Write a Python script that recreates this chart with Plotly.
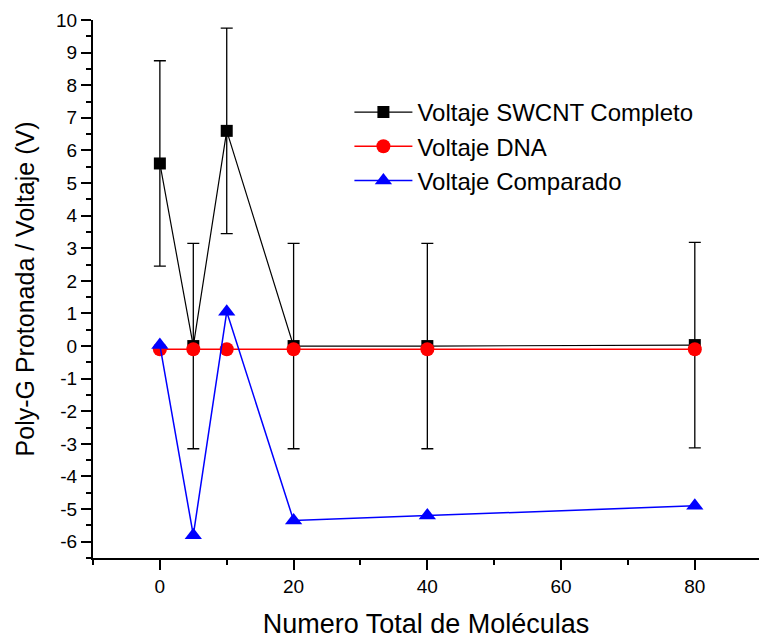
import plotly.graph_objects as go

x_vals = [0, 5, 10, 20, 40, 80]
swcnt = [5.6, 0.0, 6.6, 0.0, 0.0, 0.03]
swcnt_err = [3.15, 3.15, 3.15, 3.15, 3.15, 3.15]
dna = [-0.1, -0.1, -0.1, -0.1, -0.1, -0.1]
comparado = [0.03, -5.8, 1.05, -5.35, -5.2, -4.9]

x_ticks = [0, 20, 40, 60, 80]
x_ticktext = ["0", "20", "40", "60", "80"]
y_ticks = list(range(-6, 11))
y_ticktext = [str(v).replace("\u2212", "-") for v in y_ticks]

FONT = "Liberation Sans, Arial, sans-serif"

fig = go.Figure()
fig.add_trace(go.Scatter(
    x=x_vals, y=swcnt, mode="lines+markers", name="Voltaje SWCNT Completo",
    line=dict(color="black", width=1.2),
    marker=dict(symbol="square", size=12, color="black"),
    error_y=dict(type="data", array=swcnt_err, color="black", thickness=1.3, width=6),
))
fig.add_trace(go.Scatter(
    x=x_vals, y=dna, mode="lines+markers", name="Voltaje DNA",
    line=dict(color="red", width=1.5),
    marker=dict(symbol="circle", size=14, color="red"),
))
fig.add_trace(go.Scatter(
    x=x_vals, y=comparado, mode="lines+markers", name="Voltaje Comparado",
    line=dict(color="blue", width=1.5),
    marker=dict(symbol="triangle-up", size=15, color="blue"),
))

fig.update_layout(
    width=759, height=639,
    margin=dict(l=93, r=0, t=20, b=81, autoexpand=False),
    plot_bgcolor="white", paper_bgcolor="white",
    font=dict(family=FONT, color="black"),
    legend=dict(
        x=0.385, y=0.87, xanchor="left", yanchor="top",
        font=dict(size=24, family=FONT), bgcolor="rgba(0,0,0,0)",
        itemwidth=58, tracegroupgap=0,
    ),
)
fig.update_xaxes(
    range=[-10, 89.6], tickvals=x_ticks, ticktext=x_ticktext,
    showgrid=False, zeroline=False,
    showline=True, linecolor="black", linewidth=2,
    ticks="outside", ticklen=10, tickwidth=2, tickcolor="black",
    minor=dict(dtick=10, tick0=0, ticks="outside", ticklen=5, tickwidth=2, tickcolor="black"),
    tickfont=dict(size=19, family=FONT),
    title=dict(text="Numero Total de Moléculas", font=dict(size=27, family=FONT), standoff=20),
)
fig.update_yaxes(
    range=[-6.5, 10], tickvals=y_ticks, ticktext=y_ticktext,
    showgrid=False, zeroline=False,
    showline=True, linecolor="black", linewidth=2,
    ticks="outside", ticklen=10, tickwidth=2, tickcolor="black",
    minor=dict(dtick=0.5, tick0=0, ticks="outside", ticklen=5, tickwidth=2, tickcolor="black"),
    tickfont=dict(size=19, family=FONT),
    title=dict(text="Poly-G Protonada / Voltaje (V)", font=dict(size=25, family=FONT), standoff=14),
)

fig.write_html("out.html")
